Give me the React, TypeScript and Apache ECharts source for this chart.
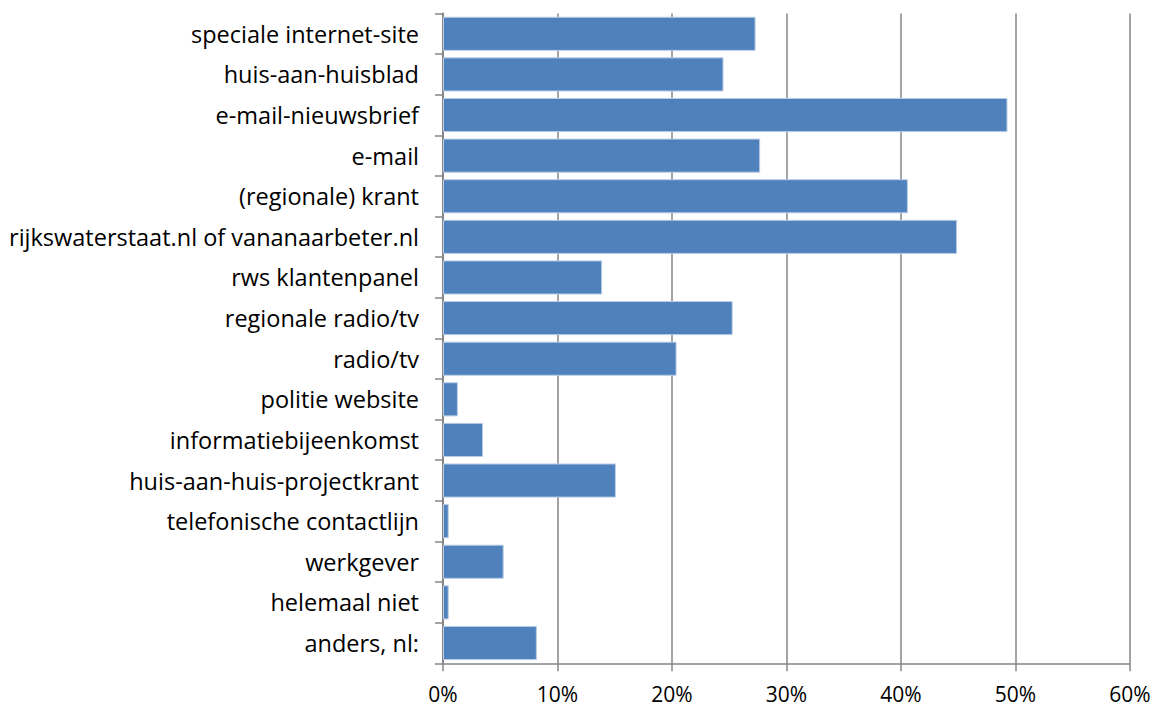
import React, { useEffect, useRef } from "react";
import * as echarts from "echarts";

const categories = [
  "speciale internet-site",
  "huis-aan-huisblad",
  "e-mail-nieuwsbrief",
  "e-mail",
  "(regionale) krant",
  "rijkswaterstaat.nl of vananaarbeter.nl",
  "rws klantenpanel",
  "regionale radio/tv",
  "radio/tv",
  "politie website",
  "informatiebijeenkomst",
  "huis-aan-huis-projectkrant",
  "telefonische contactlijn",
  "werkgever",
  "helemaal niet",
  "anders, nl:",
];

const values = [27.3, 24.5, 49.3, 27.7, 40.6, 44.9, 13.9, 25.3, 20.4, 1.3, 3.5, 15.1, 0.5, 5.3, 0.5, 8.2];

const xTicks = [0, 10, 20, 30, 40, 50, 60];

export default function App() {
  const ref = useRef<HTMLDivElement>(null);
  useEffect(() => {
    if (!ref.current) return;
    const chart = echarts.init(ref.current, null, { renderer: "svg" });
    const font = "'Open Sans', 'Liberation Sans', sans-serif";
    chart.setOption({
      animation: false,
      grid: { left: 443, right: 27, top: 13.5, bottom: 44.7 },
      xAxis: {
        type: "value",
        min: xTicks[0],
        max: xTicks[xTicks.length - 1],
        interval: 10,
        axisLine: { show: true, lineStyle: { color: "#868686", width: 1.5 } },
        axisTick: { show: true, length: 8, lineStyle: { color: "#868686", width: 1.5 } },
        splitLine: { show: true, lineStyle: { color: "#868686", width: 1.5 } },
        axisLabel: {
          formatter: (v: number) => v + "%",
          color: "#000",
          fontFamily: font,
          fontSize: 21,
          margin: 20,
          lineHeight: 21,
        },
      },
      yAxis: {
        type: "category",
        data: categories,
        inverse: true,
        axisLine: { show: true, lineStyle: { color: "#868686", width: 2 } },
        axisTick: { show: true, length: 8, lineStyle: { color: "#868686", width: 1.5 } },
        axisLabel: {
          color: "#000",
          fontFamily: font,
          fontSize: 23.5,
          margin: 24,
        },
      },
      series: [
        {
          type: "bar",
          data: values,
          barCategoryGap: "16%",
          itemStyle: { color: "#4F81BD", borderColor: "#B9CDE5", borderWidth: 1 },
        },
      ],
    });
    return () => chart.dispose();
  }, []);
  return (
    <div
      ref={ref}
      style={{ position: "absolute", left: 0, top: 0, width: 1157, height: 708 }}
    />
  );
}
